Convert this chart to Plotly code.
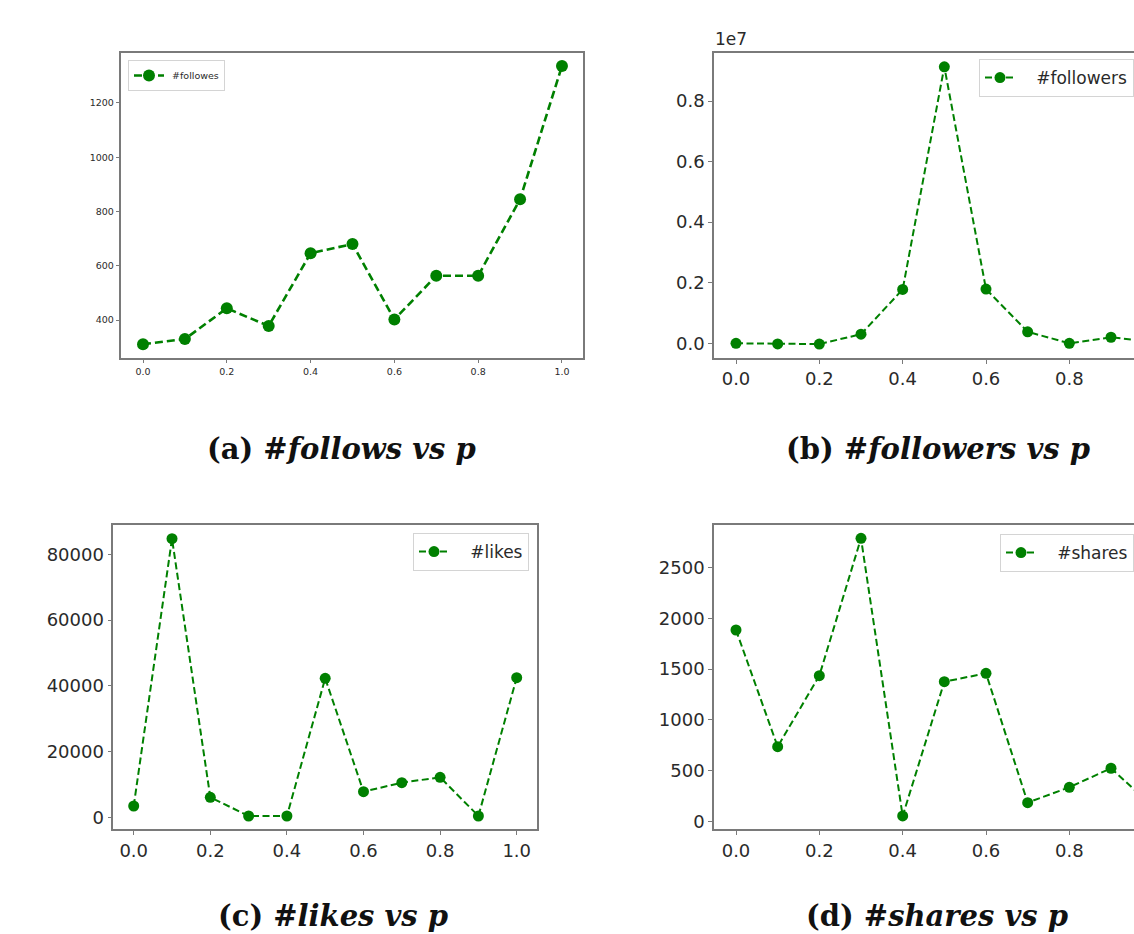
import plotly.graph_objects as go

p_values = [0.0, 0.1, 0.2, 0.3, 0.4, 0.5, 0.6, 0.7, 0.8, 0.9, 1.0]
follows = [311, 330, 443, 378, 646, 680, 402, 563, 563, 845, 1336]
followers = [0, -20000, -25000, 300000, 1780000, 9130000, 1790000, 380000, 0, 200000, 50000]
likes = [3440, 84750, 6080, 400, 400, 42280, 7790, 10530, 12170, 400, 42470]
shares = [1884, 737, 1435, 2785, 56, 1376, 1458, 187, 338, 525, 150]

x_ticks = [0.0, 0.2, 0.4, 0.6, 0.8, 1.0]
x_ticktext = ["0.0", "0.2", "0.4", "0.6", "0.8", "1.0"]
follows_ticks = [400, 600, 800, 1000, 1200]
followers_ticks = [0, 2000000, 4000000, 6000000, 8000000]
followers_ticktext = ["0.0", "0.2", "0.4", "0.6", "0.8"]
likes_ticks = [0, 20000, 40000, 60000, 80000]
shares_ticks = [0, 500, 1000, 1500, 2000, 2500]

legend_names = ["#followes", "#followers", "#likes", "#shares"]
captions = [
    "(a) <i>#follows vs p</i>",
    "(b) <i>#followers vs p</i>",
    "(c) <i>#likes vs p</i>",
    "(d) <i>#shares vs p</i>",
]

W, H = 1134, 934
GREEN = "#008000"
SPINE = "#7a7a7a"
TICKC = "#2a2a2a"


def px_x(v):
    return v / W


def px_y(v):
    return 1 - v / H


fig = go.Figure()

series = [follows, followers, likes, shares]
legend_ids = ["legend", "legend2", "legend3", "legend4"]
for i, ys in enumerate(series):
    small = i == 0
    fig.add_trace(go.Scatter(
        x=p_values, y=ys, mode="lines+markers",
        name=("\u00a0" if small else "\u00a0\u00a0\u00a0") + legend_names[i],
        line=dict(color=GREEN, width=2.6 if small else 2.0,
                  dash="8px,4px" if small else "7px,3.5px"),
        marker=dict(color=GREEN, size=12 if small else 11, symbol="circle"),
        xaxis="x" if i == 0 else f"x{i+1}",
        yaxis="y" if i == 0 else f"y{i+1}",
        legend=legend_ids[i],
        showlegend=True,
    ))

# panel geometry (pixels in the page)
panels = [
    dict(x0=121, x1=583, y0=53, y1=358, xr=[-0.0525, 1.0502], yr=[260, 1384]),
    dict(x0=714, x1=1134, y0=53, y1=358, xr=[-0.0528, 0.9552], yr=[-485000, 9585000]),
    dict(x0=113.3, x1=537.3, y0=525, y1=829.3, xr=[-0.0533, 1.0538], yr=[-3650, 88910]),
    dict(x0=714, x1=1134, y0=525, y1=829.3, xr=[-0.0528, 0.9552], yr=[-75, 2916]),
]
ytickvals = [follows_ticks, followers_ticks, likes_ticks, shares_ticks]
yticktexts = [[str(v) for v in follows_ticks], followers_ticktext,
              [str(v) for v in likes_ticks], [str(v) for v in shares_ticks]]

layout = {}
for i, pn in enumerate(panels):
    fs = 9.5 if i == 0 else 18
    xk = "xaxis" if i == 0 else f"xaxis{i+1}"
    yk = "yaxis" if i == 0 else f"yaxis{i+1}"
    yref = "y" if i == 0 else f"y{i+1}"
    xref = "x" if i == 0 else f"x{i+1}"
    cropped = i in (1, 3)
    layout[xk] = dict(
        domain=[max(0, px_x(pn["x0"])), min(1, px_x(pn["x1"]))], range=pn["xr"], anchor=yref,
        tickvals=x_ticks, ticktext=x_ticktext, showgrid=False, zeroline=False,
        showline=True, linecolor=SPINE, linewidth=1.5, mirror=True,
        ticks="outside", ticklen=4 if i else 3.5, tickcolor=SPINE, tickwidth=1,
        tickfont=dict(family="DejaVu Sans", size=fs, color=TICKC),
    )
    layout[yk] = dict(
        domain=[px_y(pn["y1"]), px_y(pn["y0"])], range=pn["yr"], anchor=xref,
        tickvals=ytickvals[i], ticktext=yticktexts[i], showgrid=False, zeroline=False,
        showline=True, linecolor=SPINE, linewidth=1.5, mirror=not cropped,
        ticks="outside", ticklen=4 if i else 3.5, tickcolor=SPINE, tickwidth=1,
        tickfont=dict(family="DejaVu Sans", size=fs, color=TICKC),
    )

# legends (b) and (d) are anchored at the right edge so they never push margins
legend_pos = [
    dict(x=px_x(128), y=px_y(60), xanchor="left", fs=9.5),
    dict(x=1.0, y=px_y(59), xanchor="right", fs=17),
    dict(x=px_x(529), y=px_y(533), xanchor="right", fs=17),
    dict(x=1.0, y=px_y(534), xanchor="right", fs=17),
]
for i, lp in enumerate(legend_pos):
    layout[legend_ids[i]] = dict(
        x=lp["x"], y=lp["y"], xanchor=lp["xanchor"], yanchor="top",
        bgcolor="white", bordercolor="#d4d4d4", borderwidth=1,
        font=dict(family="DejaVu Sans", size=lp["fs"], color=TICKC),
        itemsizing="trace",
    )

fig.update_layout(
    width=W, height=H, margin=dict(l=0, r=0, t=0, b=0, autoexpand=False),
    paper_bgcolor="white", plot_bgcolor="white",
    **layout,
)

# "1e7" offset label
fig.add_annotation(text="1e7", xref="paper", yref="paper", x=px_x(713), y=px_y(51),
                   xanchor="left", yanchor="bottom", showarrow=False,
                   font=dict(family="DejaVu Sans", size=17, color=TICKC))

cap_pos = [(341.5, 449), (938, 449), (333, 916), (937, 916)]
for txt, (cx, cy) in zip(captions, cap_pos):
    fig.add_annotation(text=f"<b>{txt}</b>", xref="paper", yref="paper",
                       x=px_x(cx), y=px_y(cy), xanchor="center", yanchor="middle",
                       showarrow=False,
                       font=dict(family="DejaVu Serif", size=29, color="#111111"))

fig.write_html(
    "out.html",
    config={"responsive": False, "displayModeBar": False},
    post_script=("document.body.style.margin='0';"
                 "document.body.style.overflow='hidden';"
                 "document.documentElement.style.overflow='hidden';"),
)
